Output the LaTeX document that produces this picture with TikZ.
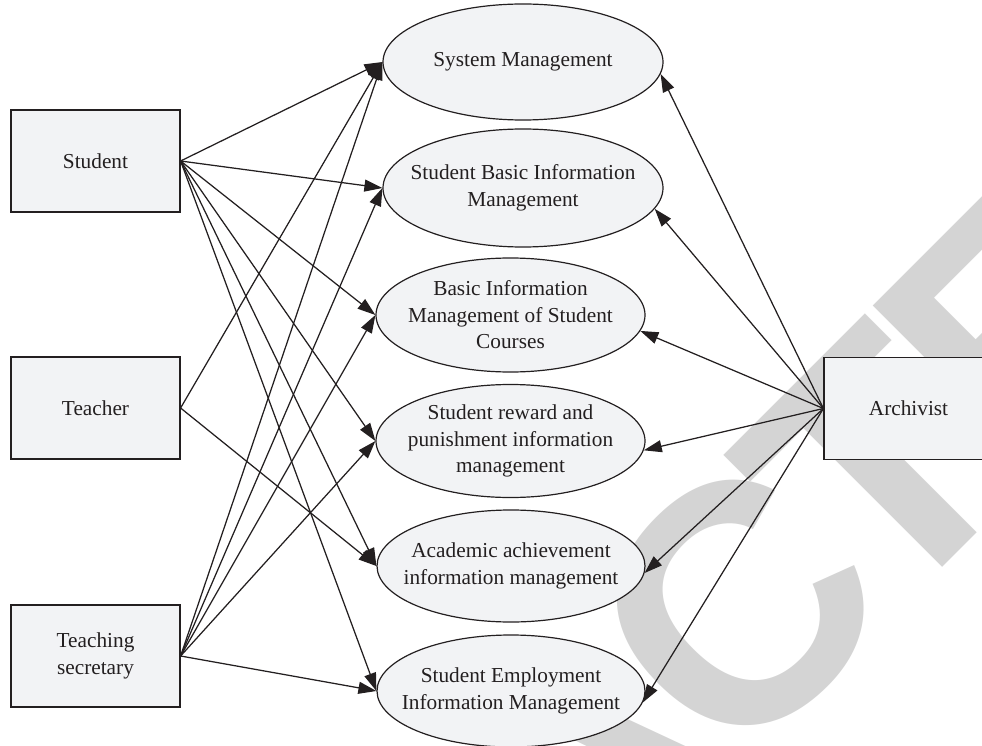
\documentclass[tikz,border=0pt]{standalone}
\usepackage{fontspec}
\setmainfont{Liberation Serif}
\newfontfamily\stampfont{Liberation Sans}
\usetikzlibrary{arrows.meta,shapes.geometric}

\definecolor{boxfill}{HTML}{F2F3F5}
\definecolor{ink}{HTML}{231F20}
\definecolor{stampgray}{HTML}{D4D4D4}

\newcommand{\labelfont}{\fontsize{21.3}{26.5}\selectfont}

\begin{document}
\begin{tikzpicture}[x=1pt,y=-1pt,
  actor/.style={draw=ink, fill=boxfill, line width=1.2pt,
    minimum width=169pt, minimum height=102pt, inner sep=0pt,
    align=center, font=\labelfont, text=ink},
  usecase/.style={ellipse, draw=ink, fill=boxfill, line width=1.2pt, inner sep=0pt},
  caption/.style={align=center, font=\labelfont, text=ink, inner sep=0pt},
  link/.style={draw=ink, line width=1.25pt, -{Triangle[length=18pt,width=12pt]}},
  stamp/.style={font=\stampfont\bfseries\fontsize{340}{340}\selectfont,
    text=stampgray, inner sep=0pt, rotate=45, anchor=base west}]

\useasboundingbox (0,0) rectangle (982,746);

% background stamp
\begin{scope}
  \clip (0,0) rectangle (982,746);
  \node[stamp] (stamp) at (-82.7,1593.1) {RETRA\kern-18pt C\kern-28pt T\kern-15pt ED};
\end{scope}

% actors
\node[actor] (student)   at (95.5,161)   {Student};
\node[actor] (teacher)   at (95.5,408)   {Teacher};
\node[actor] (secretary) at (95.5,656)   {Teaching\\secretary};
\node[actor] (archivist) at (908.5,408.5) {Archivist};

% use cases
\node[usecase, minimum width=280pt, minimum height=116pt] (sys)    at (523,62)    {};
\node[usecase, minimum width=280pt, minimum height=118pt] (basic)  at (523,188)   {};
\node[usecase, minimum width=269pt, minimum height=114pt] (course) at (510.5,315) {};
\node[usecase, minimum width=269pt, minimum height=113pt] (reward) at (510.5,441) {};
\node[usecase, minimum width=268pt, minimum height=112pt] (grade)  at (511,566)   {};
\node[usecase, minimum width=268pt, minimum height=112pt] (job)    at (511,691)   {};

\node[caption] (sys-t)    at (sys)    {System Management};
\node[caption] (basic-t)  at (basic)  {Student Basic Information\\Management};
\node[caption] (course-t) at (course) {Basic Information\\Management of Student\\Courses};
\node[caption] (reward-t) at (reward) {Student reward and\\punishment information\\management};
\node[caption] (grade-t)  at (grade)  {Academic achievement\\information management};
\node[caption] (job-t)    at (job)    {Student Employment\\Information Management};

% student
\foreach \uc in {sys,basic,course,reward,grade,job}
  \draw[link] (student.east) -- (\uc.west);
% teacher
\foreach \uc in {sys,grade}
  \draw[link] (teacher.east) -- (\uc.west);
% teaching secretary
\foreach \uc in {sys,basic,course,reward,job}
  \draw[link] (secretary.east) -- (\uc.west);
% archivist
\draw[link] (archivist.west) -- (sys.-5);
\draw[link] (archivist.west) -- (basic.-9);
\draw[link] (archivist.west) -- (course.-7);
\draw[link] (archivist.west) -- (reward.-4.5);
\draw[link] (archivist.west) -- (grade.-3);
\draw[link] (archivist.west) -- (job.-5);

\end{tikzpicture}
\end{document}
